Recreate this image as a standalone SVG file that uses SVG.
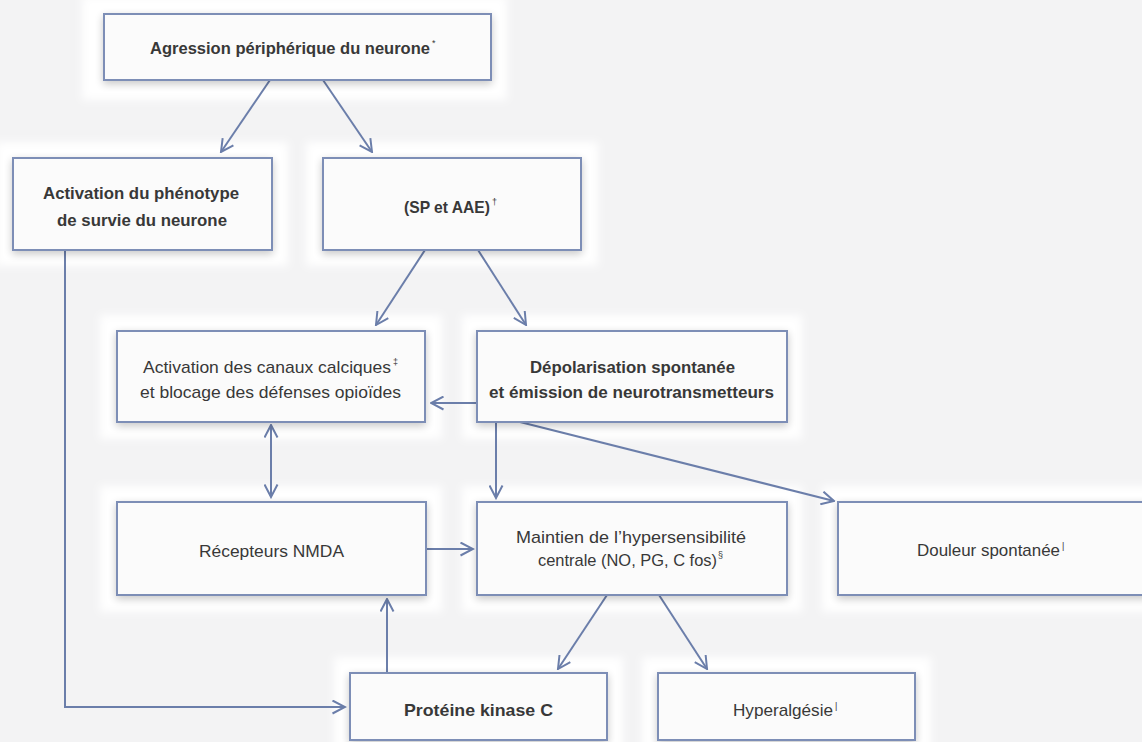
<svg xmlns="http://www.w3.org/2000/svg" width="1142" height="742" viewBox="0 0 1142 742">
<defs>
<style>
.halo{fill:#ffffff;filter:url(#soft)}
.box{fill:#fbfbfb;stroke:#7d8eb6;stroke-width:2;filter:url(#shadow)}
.t{font-family:"Liberation Sans",Arial,sans-serif;font-size:17px;fill:#383838}
.b{font-weight:bold}
.sup{font-family:"Liberation Sans",Arial,sans-serif;font-size:9px;font-weight:normal}
.c{fill:none;stroke:#6b7eaa;stroke-width:2}
</style>
<filter id="soft" x="-10%" y="-20%" width="120%" height="140%"><feGaussianBlur stdDeviation="4"/></filter>
<filter id="shadow" x="-10%" y="-20%" width="120%" height="150%">
<feGaussianBlur in="SourceAlpha" stdDeviation="4"/>
<feOffset dx="0" dy="3" result="o"/>
<feComponentTransfer in="o" result="s"><feFuncA type="linear" slope="0.22"/></feComponentTransfer>
<feMerge><feMergeNode in="s"/><feMergeNode in="SourceGraphic"/></feMerge>
</filter>
<marker id="ah" viewBox="0 0 15 15" markerWidth="15" markerHeight="15" refX="13.5" refY="7.5" orient="auto-start-reverse" markerUnits="userSpaceOnUse">
<path d="M1,1 L13.5,7.5 L1,14" fill="none" stroke="#6b7eaa" stroke-width="2"/>
</marker>
</defs>
<rect x="0" y="0" width="1142" height="742" fill="#f3f3f4"/>
<g id="halos">
<rect class="halo" x="82" y="-4" width="425" height="104"/>
<rect class="halo" x="-4" y="142" width="292" height="124"/>
<rect class="halo" x="306" y="142" width="292" height="124"/>
<rect class="halo" x="100" y="315" width="342" height="124"/>
<rect class="halo" x="462" y="315" width="340" height="124"/>
<rect class="halo" x="100" y="486" width="342" height="126"/>
<rect class="halo" x="462" y="486" width="340" height="126"/>
<rect class="halo" x="822" y="486" width="330" height="126"/>
<rect class="halo" x="334" y="657" width="289" height="100"/>
<rect class="halo" x="642" y="657" width="289" height="100"/>
</g>
<g id="connectors">
<line class="c" x1="270" y1="80" x2="221" y2="152" marker-end="url(#ah)"/>
<line class="c" x1="323" y1="80" x2="372" y2="152" marker-end="url(#ah)"/>
<line class="c" x1="425" y1="250" x2="376" y2="325" marker-end="url(#ah)"/>
<line class="c" x1="478" y1="250" x2="526" y2="325" marker-end="url(#ah)"/>
<line class="c" x1="477" y1="403" x2="431" y2="403" marker-end="url(#ah)"/>
<line class="c" x1="271" y1="425" x2="271" y2="497" marker-start="url(#ah)" marker-end="url(#ah)"/>
<line class="c" x1="496" y1="422" x2="496" y2="498" marker-end="url(#ah)"/>
<line class="c" x1="520" y1="422" x2="834" y2="501" marker-end="url(#ah)"/>
<line class="c" x1="426" y1="549" x2="473" y2="549" marker-end="url(#ah)"/>
<line class="c" x1="387" y1="673" x2="387" y2="599" marker-end="url(#ah)"/>
<line class="c" x1="607" y1="595" x2="558" y2="669" marker-end="url(#ah)"/>
<line class="c" x1="659" y1="595" x2="707" y2="669" marker-end="url(#ah)"/>
<path class="c" d="M65,250 V707 H345" marker-end="url(#ah)"/>
</g>
<g id="n-agression">
<rect class="box" x="104" y="14" width="387" height="66"/>
<text class="t b" x="150" y="54"><tspan textLength="280" lengthAdjust="spacingAndGlyphs">Agression périphérique du neurone</tspan><tspan class="sup" dx="2" dy="-8">*</tspan></text>
</g>
<g id="n-activation">
<rect class="box" x="13" y="158" width="259" height="92"/>
<text class="t b" x="43" y="199" textLength="196" lengthAdjust="spacingAndGlyphs">Activation du phénotype</text>
<text class="t b" x="57" y="226" textLength="170" lengthAdjust="spacingAndGlyphs">de survie du neurone</text>
</g>
<g id="n-sp">
<rect class="box" x="323" y="158" width="258" height="92"/>
<text class="t b" x="404" y="213"><tspan textLength="86" lengthAdjust="spacingAndGlyphs">(SP et AAE)</tspan><tspan class="sup" dx="2" dy="-8">†</tspan></text>
</g>
<g id="n-canaux">
<rect class="box" x="117" y="331" width="308" height="91"/>
<text class="t" x="143" y="373"><tspan textLength="248" lengthAdjust="spacingAndGlyphs">Activation des canaux calciques</tspan><tspan class="sup" dx="2" dy="-8">‡</tspan></text>
<text class="t" x="140" y="398" textLength="261" lengthAdjust="spacingAndGlyphs">et blocage des défenses opioïdes</text>
</g>
<g id="n-depol">
<rect class="box" x="477" y="331" width="310" height="91"/>
<text class="t b" x="530" y="373" textLength="205" lengthAdjust="spacingAndGlyphs">Dépolarisation spontanée</text>
<text class="t b" x="489" y="398" textLength="285" lengthAdjust="spacingAndGlyphs">et émission de neurotransmetteurs</text>
</g>
<g id="n-nmda">
<rect class="box" x="117" y="502" width="309" height="93"/>
<text class="t" x="199" y="557" textLength="145" lengthAdjust="spacingAndGlyphs">Récepteurs NMDA</text>
</g>
<g id="n-maintien">
<rect class="box" x="477" y="502" width="310" height="93"/>
<text class="t" x="516" y="543" textLength="230" lengthAdjust="spacingAndGlyphs">Maintien de l’hypersensibilité</text>
<text class="t" x="538" y="566"><tspan textLength="179" lengthAdjust="spacingAndGlyphs">centrale (NO, PG, C fos)</tspan><tspan class="sup" dx="1" dy="-8">§</tspan></text>
</g>
<g id="n-douleur">
<rect class="box" x="838" y="502" width="310" height="93"/>
<text class="t" x="917" y="556"><tspan textLength="143" lengthAdjust="spacingAndGlyphs">Douleur spontanée</tspan><tspan class="sup" dx="2" dy="-7">|</tspan></text>
</g>
<g id="n-pkc">
<rect class="box" x="350" y="673" width="257" height="67"/>
<text class="t b" x="404" y="716" textLength="149" lengthAdjust="spacingAndGlyphs">Protéine kinase C</text>
</g>
<g id="n-hyper">
<rect class="box" x="658" y="673" width="257" height="67"/>
<text class="t" x="733" y="716"><tspan textLength="100" lengthAdjust="spacingAndGlyphs">Hyperalgésie</tspan><tspan class="sup" dx="2" dy="-7">|</tspan></text>
</g>
</svg>
